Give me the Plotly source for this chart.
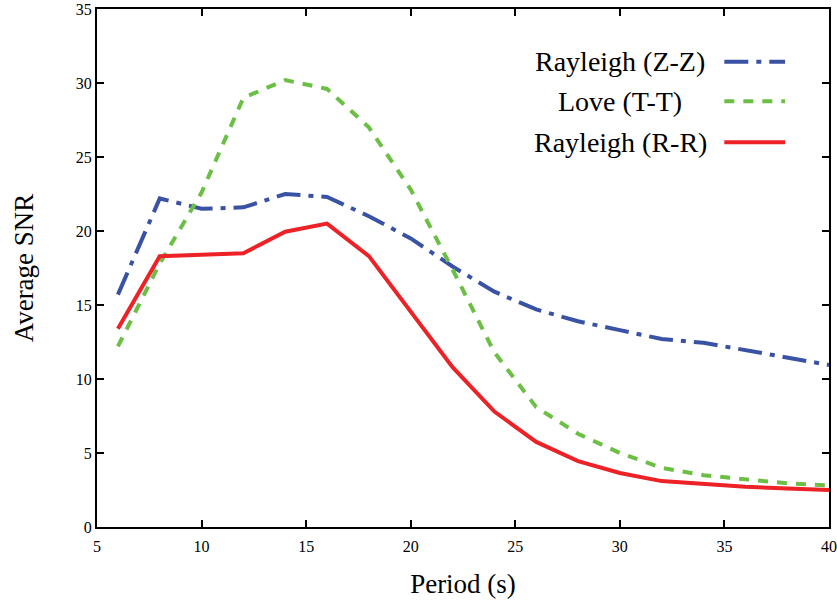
import plotly.graph_objects as go

period = [6, 8, 10, 12, 14, 16, 18, 20, 22, 24, 26, 28, 30, 32, 34, 36, 38, 40]
rayleigh_zz = [15.7, 22.2, 21.5, 21.6, 22.5, 22.3, 21.0, 19.5, 17.6, 15.9, 14.7, 13.9, 13.3, 12.7, 12.45, 11.95, 11.4, 10.95]
love_tt = [12.2, 17.8, 22.6, 29.0, 30.2, 29.6, 27.0, 22.8, 17.4, 11.8, 8.1, 6.3, 5.0, 4.0, 3.5, 3.2, 2.95, 2.8]
rayleigh_rr = [13.4, 18.3, 18.4, 18.5, 19.95, 20.5, 18.3, 14.5, 10.8, 7.8, 5.75, 4.45, 3.65, 3.1, 2.9, 2.72, 2.6, 2.5]

names = ["Rayleigh (Z-Z)", "Love (T-T)", "Rayleigh (R-R)"]
colors = ["#3a52a4", "#6cbf45", "#ec2227"]
dashes = ["24px,8px,5px,8px", "10px,9px", "solid"]
series = [rayleigh_zz, love_tt, rayleigh_rr]

FONT = "Liberation Serif, Times New Roman, serif"

fig = go.Figure()
for name, ys, c, d in zip(names, series, colors, dashes):
    fig.add_trace(go.Scatter(x=period, y=ys, mode="lines", name=name,
                             line=dict(color=c, width=4, dash=d),
                             showlegend=False))

# custom legend (text left of sample line, as in reference)
leg_y = [0.898, 0.822, 0.743]
for name, c, d, yy in zip(names, colors, dashes, leg_y):
    fig.add_annotation(xref="paper", yref="paper", x=0.715, y=yy, text=name,
                       showarrow=False, xanchor="center", yanchor="middle",
                       font=dict(family=FONT, size=28, color="black"))
    fig.add_shape(type="line", xref="paper", yref="paper",
                  x0=0.857, x1=0.94, y0=yy, y1=yy,
                  line=dict(color=c, width=4, dash=d))

axis_common = dict(showline=True, linecolor="black", linewidth=2, mirror="ticks",
                   ticks="inside", ticklen=7, tickwidth=1.5, tickcolor="black",
                   showgrid=False, zeroline=False, automargin=False,
                   tickfont=dict(family=FONT, size=16, color="black"))

fig.update_xaxes(range=[5, 40], dtick=5, tick0=5, ticklabelstandoff=4,
                 title=dict(text="Period (s)", font=dict(family=FONT, size=27, color="black"), standoff=20),
                 **axis_common)
fig.update_yaxes(range=[0, 35], dtick=5, tick0=0,
                 title=dict(text="Average SNR", font=dict(family=FONT, size=27, color="black"), standoff=34),
                 **axis_common)

fig.update_layout(width=837, height=605, margin=dict(l=97, r=8, t=9, b=78),
                  paper_bgcolor="white", plot_bgcolor="white",
                  font=dict(family=FONT))

fig.write_html("out.html")
